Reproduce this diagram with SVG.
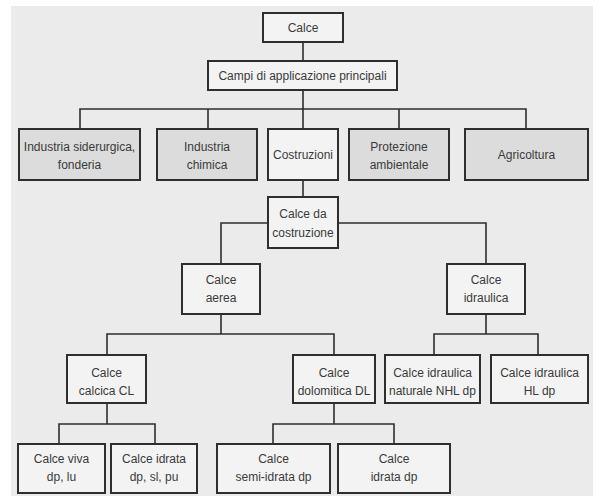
<svg xmlns="http://www.w3.org/2000/svg" width="601" height="500" viewBox="0 0 601 500">
<style>
.bg{fill:#ebebeb}
.n rect{stroke:#2e2e2e;stroke-width:2;fill:#f3f3f3}
.n.d rect{fill:#dcdcdc}
.n text{font-family:'Liberation Sans',Arial,sans-serif;font-size:12px;fill:#3a3a3a;text-anchor:middle}
#edges path{fill:none;stroke:#2e2e2e;stroke-width:1.6}
</style>
<rect width="601" height="500" fill="#ffffff"/>
<rect class="bg" x="11" y="6" width="582" height="490"/>
<g id="edges">
<path d="M303 42V61"/>
<path d="M303 90V129M80 129V109H526V129M208 109V129M399 109V129"/>
<path d="M303 180V197"/>
<path d="M268 223H221V264M338 223H486V264"/>
<path d="M221 314V334M107 355V334H334V355"/>
<path d="M486 314V334M434 355V334H538V355"/>
<path d="M107 403V424M59 444V424H155V444"/>
<path d="M334 403V424M273 444V424H394V444"/>
</g>
<g id="calce" class="n"><rect x="263" y="13" width="80" height="29"/><text x="303" y="32">Calce</text></g>
<g id="campi" class="n"><rect x="208" y="61" width="189" height="29"/><text x="302.5" y="80">Campi di applicazione principali</text></g>
<g id="siderurgica" class="n d"><rect x="19" y="129" width="121" height="51"/><text x="79.5" y="151">Industria siderurgica,</text><text x="79.5" y="169">fonderia</text></g>
<g id="chimica" class="n d"><rect x="157" y="129" width="100" height="51"/><text x="207" y="151">Industria</text><text x="207" y="169">chimica</text></g>
<g id="costruzioni" class="n"><rect x="268" y="129" width="70" height="51"/><text x="303" y="159">Costruzioni</text></g>
<g id="protezione" class="n d"><rect x="349" y="129" width="100" height="51"/><text x="399" y="151">Protezione</text><text x="399" y="169">ambientale</text></g>
<g id="agricoltura" class="n d"><rect x="465" y="129" width="123" height="51"/><text x="526.5" y="159">Agricoltura</text></g>
<g id="dacostruzione" class="n"><rect x="268" y="197" width="70" height="51"/><text x="303" y="218">Calce da</text><text x="303" y="237">costruzione</text></g>
<g id="aerea" class="n"><rect x="182" y="264" width="78" height="50"/><text x="221" y="284">Calce</text><text x="221" y="302">aerea</text></g>
<g id="idraulica" class="n"><rect x="447" y="264" width="78" height="50"/><text x="486" y="284">Calce</text><text x="486" y="302">idraulica</text></g>
<g id="calcica" class="n"><rect x="67" y="355" width="79" height="48"/><text x="106.5" y="377">Calce</text><text x="106.5" y="395">calcica CL</text></g>
<g id="dolomitica" class="n"><rect x="293" y="355" width="82" height="48"/><text x="334" y="377">Calce</text><text x="334" y="395">dolomitica DL</text></g>
<g id="nhl" class="n"><rect x="385" y="355" width="95" height="48"/><text x="432.5" y="377">Calce idraulica</text><text x="432.5" y="395">naturale NHL dp</text></g>
<g id="hl" class="n"><rect x="491" y="355" width="97" height="48"/><text x="539.5" y="377">Calce idraulica</text><text x="539.5" y="395">HL dp</text></g>
<g id="viva" class="n"><rect x="18" y="444" width="87" height="49"/><text x="61.5" y="463">Calce viva</text><text x="61.5" y="481">dp, lu</text></g>
<g id="idrata1" class="n"><rect x="111" y="444" width="86" height="49"/><text x="154" y="463">Calce idrata</text><text x="154" y="481">dp, sl, pu</text></g>
<g id="semiidrata" class="n"><rect x="217" y="444" width="113" height="49"/><text x="273.5" y="463">Calce</text><text x="273.5" y="481">semi-idrata dp</text></g>
<g id="idrata2" class="n"><rect x="338" y="444" width="112" height="49"/><text x="394" y="463">Calce</text><text x="394" y="481">idrata dp</text></g>
</svg>
